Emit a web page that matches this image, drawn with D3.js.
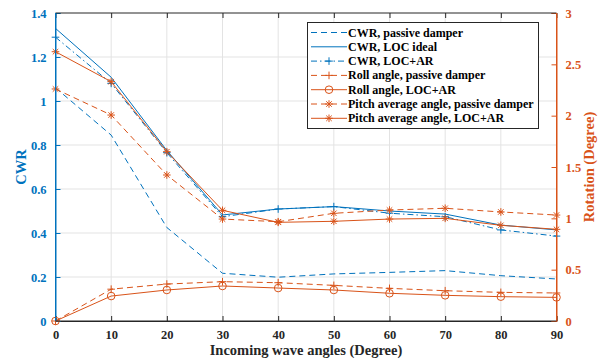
<!DOCTYPE html>
<html><head><meta charset="utf-8">
<script src="https://cdn.jsdelivr.net/npm/d3@7"></script>
<style>body{margin:0;background:#fff}svg{display:block}text{font-family:"Liberation Serif","Times New Roman",serif;font-weight:bold}</style>
</head><body><svg id="c" width="602" height="362"></svg>
<script>
const angles = [0,10,20,30,40,50,60,70,80,90];
const cwrPassive = [1.06,0.845,0.425,0.217,0.199,0.214,0.221,0.229,0.206,0.191];
const cwrLocIdeal = [1.33,1.108,0.775,0.482,0.509,0.52,0.5,0.486,0.436,0.414];
const cwrLocAR = [1.29,1.08,0.765,0.474,0.509,0.52,0.49,0.474,0.414,0.386];
const rollPassive = [0,0.31,0.36,0.383,0.373,0.347,0.318,0.295,0.279,0.273];
const rollLocAR = [0,0.243,0.302,0.341,0.321,0.302,0.27,0.25,0.237,0.23];
const pitchPassive = [2.26,2.006,1.422,0.993,0.967,1.049,1.081,1.098,1.062,1.032];
const pitchLocAR = [2.623,2.331,1.649,1.078,0.961,0.971,0.993,1.0,0.932,0.893];
const xTicks = [0,10,20,30,40,50,60,70,80,90];
const yLeftTicks = [0,0.2,0.4,0.6,0.8,1,1.2,1.4];
const yRightTicks = [0,0.5,1,1.5,2,2.5,3];
const legendLabels = ["CWR, passive damper","CWR, LOC ideal","CWR, LOC+AR","Roll angle, passive damper","Roll angle, LOC+AR","Pitch average angle, passive damper","Pitch average angle, LOC+AR"];

const BLUE="#0072BD", ORANGE="#D95319", DARK="#262626";
const L=55.5,R=556.5,T=13,B=321;
const svg=d3.select("#c");
const x=d3.scaleLinear().domain([0,90]).range([L,R]);
const yl=d3.scaleLinear().domain([0,1.4]).range([B,T]);
const yr=d3.scaleLinear().domain([0,3]).range([B,T]);

// grid
svg.append("g").selectAll("line").data(xTicks.slice(1,-1)).join("line")
  .attr("x1",d=>x(d)).attr("x2",d=>x(d)).attr("y1",T).attr("y2",B)
  .attr("stroke","#e3e3e3").attr("stroke-width",1);
svg.append("g").selectAll("line").data(yLeftTicks.slice(1,-1)).join("line")
  .attr("y1",d=>yl(d)).attr("y2",d=>yl(d)).attr("x1",L).attr("x2",R)
  .attr("stroke","#e3e3e3").attr("stroke-width",1);

// axes
const fs=12.5;
const gx=svg.append("g").attr("transform",`translate(0,${B})`)
  .call(d3.axisBottom(x).tickValues(xTicks).tickSize(-5).tickPadding(9).tickFormat(d3.format("d")));
const gxt=svg.append("g").attr("transform",`translate(0,${T})`)
  .call(d3.axisTop(x).tickValues(xTicks).tickSize(-5).tickFormat(""));
const gl=svg.append("g").attr("transform",`translate(${L},0)`)
  .call(d3.axisLeft(yl).tickValues(yLeftTicks).tickSize(-5).tickPadding(9).tickFormat(d=>d===0?"0":(d%1===0?d3.format("d")(d):d3.format(".1f")(d))));
const gr=svg.append("g").attr("transform",`translate(${R},0)`)
  .call(d3.axisRight(yr).tickValues(yRightTicks).tickSize(-5).tickPadding(9).tickFormat(d=>d%1===0?d3.format("d")(d):d3.format(".1f")(d)));
[[gx,DARK],[gxt,DARK],[gl,BLUE],[gr,ORANGE]].forEach(([g,c])=>{
  g.selectAll("path").attr("stroke",c).attr("stroke-width",1);
  g.selectAll("line").attr("stroke",c);
  g.selectAll("text").attr("fill",c).style("font-size",fs+"px").style("font-family","Liberation Serif").style("font-weight","bold");
});
gxt.select("path").remove();
// redraw top border
svg.append("line").attr("x1",L).attr("x2",R).attr("y1",T).attr("y2",T).attr("stroke",DARK);

// axis labels
svg.append("text").attr("x",(L+R)/2).attr("y",355).attr("text-anchor","middle").attr("fill",DARK).style("font-size","14.5px").text("Incoming wave angles (Degree)");
svg.append("text").attr("transform",`translate(26,${(T+B)/2}) rotate(-90)`).attr("text-anchor","middle").attr("fill",BLUE).style("font-size","14.5px").text("CWR");
svg.append("text").attr("transform",`translate(594,${(T+B)/2}) rotate(-90)`).attr("text-anchor","middle").attr("fill",ORANGE).style("font-size","14.5px").text("Rotation (Degree)");

const series=[
  {vals:cwrPassive,y:yl,c:BLUE,dash:"6,4",m:null},
  {vals:cwrLocIdeal,y:yl,c:BLUE,dash:null,m:null},
  {vals:cwrLocAR,y:yl,c:BLUE,dash:"6,3,1.5,3",m:"plus"},
  {vals:rollPassive,y:yr,c:ORANGE,dash:"6,4",m:"plus"},
  {vals:rollLocAR,y:yr,c:ORANGE,dash:null,m:"circle"},
  {vals:pitchPassive,y:yr,c:ORANGE,dash:"6,4",m:"star"},
  {vals:pitchLocAR,y:yr,c:ORANGE,dash:null,m:"star"}
];
function marker(g,type,cx,cy,c){
  const s=3.8;
  if(type==="plus"||type==="star"){
    g.append("line").attr("x1",cx-s).attr("x2",cx+s).attr("y1",cy).attr("y2",cy).attr("stroke",c);
    g.append("line").attr("x1",cx).attr("x2",cx).attr("y1",cy-s).attr("y2",cy+s).attr("stroke",c);
  }
  if(type==="star"){
    const k=s*0.72;
    g.append("line").attr("x1",cx-k).attr("x2",cx+k).attr("y1",cy-k).attr("y2",cy+k).attr("stroke",c);
    g.append("line").attr("x1",cx-k).attr("x2",cx+k).attr("y1",cy+k).attr("y2",cy-k).attr("stroke",c);
  }
  if(type==="circle"){
    g.append("circle").attr("cx",cx).attr("cy",cy).attr("r",3.8).attr("fill","none").attr("stroke",c);
  }
}
const plot=svg.append("g");
series.forEach(s=>{
  const line=d3.line().x((d,i)=>x(angles[i])).y(d=>s.y(d));
  plot.append("path").datum(s.vals).attr("d",line).attr("fill","none").attr("stroke",s.c).attr("stroke-width",1)
    .attr("stroke-dasharray",s.dash);
  if(s.m){const mg=plot.append("g");s.vals.forEach((v,i)=>marker(mg,s.m,x(angles[i]),s.y(v),s.c));}
});
// left/right axes drawn on top
svg.append("line").attr("x1",L).attr("x2",L).attr("y1",T).attr("y2",B).attr("stroke",BLUE);
svg.append("line").attr("x1",R).attr("x2",R).attr("y1",T).attr("y2",B).attr("stroke",ORANGE);
svg.append("line").attr("x1",L).attr("x2",R).attr("y1",B).attr("y2",B).attr("stroke",DARK);

// legend
const lx=307,ly=22,lw=231,lh=106;
const lg=svg.append("g");
lg.append("rect").attr("x",lx+0.5).attr("y",ly+0.5).attr("width",lw).attr("height",lh).attr("fill","#fff").attr("stroke",DARK).attr("stroke-width",1);
legendLabels.forEach((lab,i)=>{
  const s=series[i]; const yy=ly+10.5+i*14.3;
  lg.append("line").attr("x1",lx+4).attr("x2",lx+40).attr("y1",yy).attr("y2",yy).attr("stroke",s.c).attr("stroke-dasharray",s.dash);
  if(s.m) marker(lg,s.m,lx+22,yy,s.c);
  lg.append("text").attr("x",lx+41).attr("y",yy+4).attr("fill","#000").style("font-size","12px").text(lab);
});
</script></body></html>
